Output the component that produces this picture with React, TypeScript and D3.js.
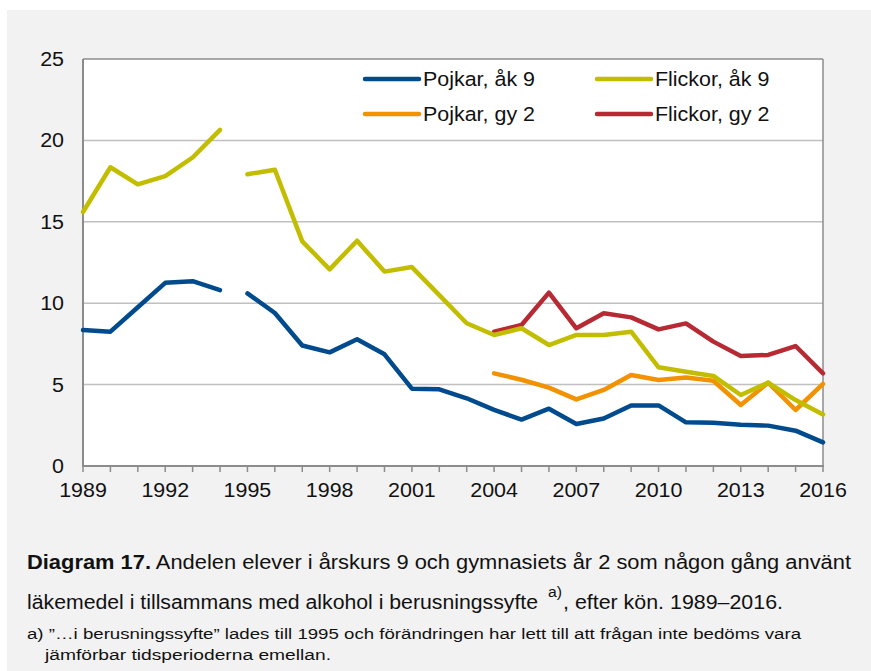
import React from "react";
import * as d3 from "d3";

// data (percent)
const yearsEarly = [1989, 1990, 1991, 1992, 1993, 1994];
const yearsLate = [1995, 1996, 1997, 1998, 1999, 2000, 2001, 2002, 2003, 2004, 2005, 2006, 2007, 2008, 2009, 2010, 2011, 2012, 2013, 2014, 2015, 2016];
const yearsGy = [2004, 2005, 2006, 2007, 2008, 2009, 2010, 2011, 2012, 2013, 2014, 2015, 2016];

const pojkarAk9Early = [8.35, 8.25, 9.75, 11.25, 11.35, 10.8];
const flickorAk9Early = [15.6, 18.35, 17.3, 17.8, 18.95, 20.65];
const pojkarAk9Late = [10.6, 9.4, 7.4, 6.98, 7.78, 6.86, 4.75, 4.71, 4.16, 3.45, 2.85, 3.52, 2.58, 2.92, 3.72, 3.72, 2.68, 2.66, 2.54, 2.48, 2.17, 1.45];
const flickorAk9Late = [17.92, 18.2, 13.8, 12.08, 13.84, 11.94, 12.22, 10.5, 8.77, 8.05, 8.46, 7.43, 8.05, 8.05, 8.25, 6.06, 5.79, 5.53, 4.36, 5.12, 4.05, 3.17];
const pojkarGy2 = [5.69, 5.3, 4.81, 4.09, 4.67, 5.59, 5.28, 5.43, 5.24, 3.75, 5.12, 3.44, 5.04];
const flickorGy2 = [8.25, 8.66, 10.65, 8.46, 9.38, 9.13, 8.39, 8.76, 7.64, 6.76, 6.82, 7.37, 5.69];

const yTicks = [0, 5, 10, 15, 20, 25];
const xLabelYears = [1989, 1992, 1995, 1998, 2001, 2004, 2007, 2010, 2013, 2016];

const legendItems = [
  { label: "Pojkar, åk 9", color: "#004b8d" },
  { label: "Flickor, åk 9", color: "#c3bd00" },
  { label: "Pojkar, gy 2", color: "#f39200" },
  { label: "Flickor, gy 2", color: "#b72a33" },
];

const font = "'Liberation Sans', Arial, sans-serif";
const stretch = 1.1; // reference text is a bit wider than Liberation Sans

// text drawn with a slight horizontal stretch
function WText({ x, y, anchor = "start", size, dy, children }: any) {
  return (
    <text transform={`translate(${x},${y}) scale(${stretch},1)`} textAnchor={anchor} fontSize={size} dy={dy} fill="#111">
      {children}
    </text>
  );
}

export default function App() {
  const width = 871, height = 671;
  const left = 83, right = 823, top = 59, bottom = 466;

  const x = d3.scaleLinear().domain([1989, 2016]).range([left, right]);
  const y = d3.scaleLinear().domain([0, 25]).range([bottom, top]);

  const line = d3.line<[number, number]>()
    .x(d => x(d[0]))
    .y(d => y(d[1]));

  const mk = (yrs: number[], vals: number[]) => line(yrs.map((yr, i) => [yr, vals[i]] as [number, number])) || "";

  const series = [
    { d: mk(yearsGy, pojkarGy2), color: legendItems[2].color },
    { d: mk(yearsEarly, pojkarAk9Early), color: legendItems[0].color },
    { d: mk(yearsLate, pojkarAk9Late), color: legendItems[0].color },
    { d: mk(yearsGy, flickorGy2), color: legendItems[3].color },
    { d: mk(yearsEarly, flickorAk9Early), color: legendItems[1].color },
    { d: mk(yearsLate, flickorAk9Late), color: legendItems[1].color },
  ];

  const allYears = d3.range(1989, 2017);

  return (
    <svg width={width} height={height} style={{ position: "absolute", left: 0, top: 0, fontFamily: font }}>
      <rect x={7} y={10} width={width - 7} height={height - 10} fill="#f2f2f2" />
      <rect x={left} y={top} width={right - left} height={bottom - top} fill="#ffffff" />

      {/* gridlines */}
      {yTicks.filter(t => t > 0 && t < 25).map(t => (
        <line key={t} x1={left} x2={right} y1={y(t)} y2={y(t)} stroke="#c0c0c0" strokeWidth={1.5} />
      ))}
      {/* frame */}
      <line x1={left} x2={right} y1={top} y2={top} stroke="#8c8c8c" strokeWidth={1.5} />
      <line x1={right} x2={right} y1={top} y2={bottom} stroke="#8c8c8c" strokeWidth={1.5} />
      <line x1={left} x2={left} y1={top} y2={bottom} stroke="#8c8c8c" strokeWidth={2} />
      <line x1={left - 1} x2={right + 1} y1={bottom} y2={bottom} stroke="#8c8c8c" strokeWidth={2} />

      {/* x ticks */}
      {allYears.map(yr => (
        <line key={yr} x1={x(yr)} x2={x(yr)} y1={bottom} y2={bottom + 6} stroke="#8c8c8c" strokeWidth={1.5} />
      ))}
      {xLabelYears.map(yr => (
        <WText key={yr} x={x(yr)} y={497} anchor="middle" size={19.5}>{yr}</WText>
      ))}
      {yTicks.map(t => (
        <WText key={t} x={64} y={y(t)} dy="0.36em" anchor="end" size={19.5}>{t}</WText>
      ))}

      {/* series */}
      {series.map((s, i) => (
        <path key={i} d={s.d} fill="none" stroke={s.color} strokeWidth={4.5} strokeLinejoin="round" strokeLinecap="round" />
      ))}

      {/* legend */}
      {legendItems.map((it, i) => {
        const lx = i % 2 === 0 ? 365 : 597;
        const ly = i < 2 ? 79 : 114;
        return (
          <g key={it.label}>
            <line x1={lx} x2={lx + 54} y1={ly} y2={ly} stroke={it.color} strokeWidth={4.5} strokeLinecap="round" />
            <WText x={lx + 58} y={ly} dy="0.36em" size={19.5}>{it.label}</WText>
          </g>
        );
      })}

      {/* caption */}
      <text x={27} y={569} fontSize={19.5} fill="#111" textLength={824} lengthAdjust="spacingAndGlyphs">
        <tspan fontWeight="bold">Diagram 17.</tspan>
        <tspan> Andelen elever i årskurs 9 och gymnasiets år 2 som någon gång använt</tspan>
      </text>
      <text x={27} y={609} fontSize={19.5} fill="#111" textLength={511} lengthAdjust="spacingAndGlyphs">läkemedel i tillsammans med alkohol i berusningssyfte</text>
      <text x={548} y={597} fontSize={14} fill="#111" textLength={14} lengthAdjust="spacingAndGlyphs">a)</text>
      <text x={563} y={609} fontSize={19.5} fill="#111" textLength={220} lengthAdjust="spacingAndGlyphs">, efter kön. 1989–2016.</text>
      <text x={27} y={639} fontSize={15.5} fill="#111" textLength={774} lengthAdjust="spacingAndGlyphs">a) ”…i berusningssyfte” lades till 1995 och förändringen har lett till att frågan inte bedöms vara</text>
      <text x={45} y={660} fontSize={15.5} fill="#111" textLength={286} lengthAdjust="spacingAndGlyphs">jämförbar tidsperioderna emellan.</text>
    </svg>
  );
}
